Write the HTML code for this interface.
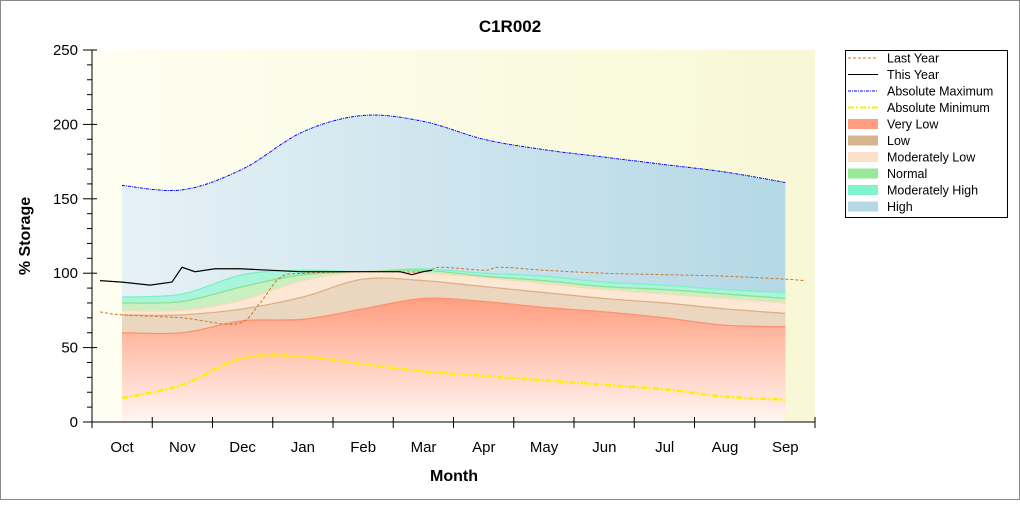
<!DOCTYPE html>
<html><head><meta charset="utf-8"><style>
body{margin:0;background:#fff;font-family:"Liberation Sans",Arial,sans-serif}
svg text{font-family:"Liberation Sans",Arial,sans-serif}
</style></head><body>
<svg id="s" width="1020" height="500" xmlns="http://www.w3.org/2000/svg">
<defs>
<linearGradient id="bg" x1="0" x2="1" y1="0" y2="0"><stop offset="0" stop-color="#fefef2"/><stop offset="1" stop-color="#f8f8d6"/></linearGradient>
<linearGradient id="gH" x1="0" x2="1"><stop offset="0" stop-color="#e6f1f6"/><stop offset="1" stop-color="#b4d8e6"/></linearGradient>
<linearGradient id="gV" x1="0" y1="1" x2="0" y2="0"><stop offset="0" stop-color="#fff6f2"/><stop offset="1" stop-color="#ff9e80"/></linearGradient>
</defs>
<rect x="0.5" y="0.5" width="1019" height="499" fill="#fff" stroke="#888"/>
<rect x="92" y="50" width="723" height="372" fill="url(#bg)"/>
<g id="plot"></g>
<text x="510" y="32" font-size="17" font-weight="bold" text-anchor="middle">C1R002</text>
<text x="454" y="481" font-size="16" font-weight="bold" text-anchor="middle">Month</text>
<text transform="translate(30,236) rotate(-90)" font-size="16" font-weight="bold" text-anchor="middle">% Storage</text>
<g id="ax" stroke="#000" fill="none"></g>
<g id="lab" font-size="15"></g>
<g id="leg" font-size="12.5"></g>
</svg>
<script>
const Y=v=>422-v*1.488, X=i=>122+60.3*i;
function cr(pts){let d="M"+pts[0][0]+","+pts[0][1];for(let i=0;i<pts.length-1;i++){const p0=pts[Math.max(0,i-1)],p1=pts[i],p2=pts[i+1],p3=pts[Math.min(pts.length-1,i+2)];d+=" C"+(p1[0]+(p2[0]-p0[0])/6)+","+(p1[1]+(p2[1]-p0[1])/6)+" "+(p2[0]-(p3[0]-p1[0])/6)+","+(p2[1]-(p3[1]-p1[1])/6)+" "+p2[0]+","+p2[1];}return d;}
const m=a=>a.map((v,i)=>[X(i),Y(v)]);
const VL=[60,60,68,69,76,83,81,77,74,70,65,64],LO=[72,72,76,84,96,95,91,87,83,80,76,73],ML=[75,75,82,95,101,100,97,93,89,86,83,80],NO=[80,81,91,99,101,102,98,95,91,89,86,83],MH=[84,86,99,102,101,103,100,98,94,92,89,87],HI=[159,156,170,195,206,202,190,183,178,173,168,161],MN=[16,25,43,44,39,34,31,28,25,22,17,15];
let g="";
function band(top,fill,stroke){g+=`<path d="${cr(m(top))} L${X(11)},${Y(0)} L${X(0)},${Y(0)} Z" fill="${fill}"/>`;if(stroke)g+=`<path d="${cr(m(top))}" fill="none" stroke="${stroke}" stroke-width="1.3"/>`;}
band(HI,"url(#gH)");
band(MH,"#a8f5dc","#7ef0c8");
band(NO,"#c8f0c0","#90e090");
band(ML,"#fde8d6","#fcd9bc");
band(LO,"#ebd6c0","#dcb088");
band(VL,"url(#gV)","#ff9070");
g+=`<path d="${cr(m(HI))}" fill="none" stroke="#0000ff" stroke-width="1" stroke-dasharray="3,1,1,1"/>`;
g+=`<path d="${cr(m(MN))}" fill="none" stroke="#ffee00" stroke-width="2.5" stroke-dasharray="6,2,2,2"/>`;
const LY=[[100,74],[122,72],[182,70],[237,66],[260,80],[280,97],[304,100],[362,101],[423,101],[440,104],[484,102],[500,104],[544,102],[604,100],[665,99],[725,98],[785,96],[805,95]].map(p=>[p[0],Y(p[1])]);
g+=`<path d="${cr(LY)}" fill="none" stroke="#c8782a" stroke-width="1" stroke-dasharray="3,2"/>`;
const TY=[[100,95],[122,94],[150,92],[172,94],[182,104],[195,101],[215,103],[240,103],[300,101],[400,101],[412,99],[423,101],[432,102]].map(p=>[p[0],Y(p[1])]);
g+=`<polyline points="${TY.map(p=>p.join(",")).join(" ")}" fill="none" stroke="#000" stroke-width="1.2"/>`;
document.getElementById("plot").innerHTML=g;
let a=`<line x1="92" y1="50" x2="92" y2="422"/><line x1="92" y1="422" x2="815" y2="422"/>`,l="";
for(let v=0;v<=250;v+=10){const y=Y(v);a+=`<line x1="${v%50?87:83}" y1="${y}" x2="${v%50?92:97}" y2="${y}"/>`;if(v%50==0)l+=`<text x="78" y="${y+5}" text-anchor="end">${v}</text>`;}
const mo=["Oct","Nov","Dec","Jan","Feb","Mar","Apr","May","Jun","Jul","Aug","Sep"];
for(let i=0;i<13;i++){const x=92+60.25*i;a+=`<line x1="${x}" y1="417" x2="${x}" y2="428"/>`;}
mo.forEach((t,i)=>l+=`<text x="${X(i)}" y="452" text-anchor="middle">${t}</text>`);
document.getElementById("ax").innerHTML=a;document.getElementById("lab").innerHTML=l;
const L=[["Last Year","l","#c8782a","3,2"],["This Year","l","#000",""],["Absolute Maximum","l","#0000ff","3,1,1,1"],["Absolute Minimum","l","#ffee00","6,2,2,2"],["Very Low","b","#ff9e80"],["Low","b","#d8b48c"],["Moderately Low","b","#fde0c8"],["Normal","b","#98e898"],["Moderately High","b","#80f4cc"],["High","b","#b4d8e6"]];
let s=`<rect x="845.5" y="50.5" width="162" height="167" fill="#fff" stroke="#000"/>`;
L.forEach((e,i)=>{const y=58+16.5*i;if(e[1]=="l")s+=`<line x1="848" x2="878" y1="${y}" y2="${y}" stroke="${e[2]}" stroke-width="${e[2]=="#ffee00"?2:1}" stroke-dasharray="${e[3]}"/>`;else s+=`<rect x="848" y="${y-5}" width="30" height="10" fill="${e[2]}"/>`;s+=`<text x="887" y="${y+4.5}">${e[0]}</text>`;});
document.getElementById("leg").innerHTML=s;
</script>
</body></html>
